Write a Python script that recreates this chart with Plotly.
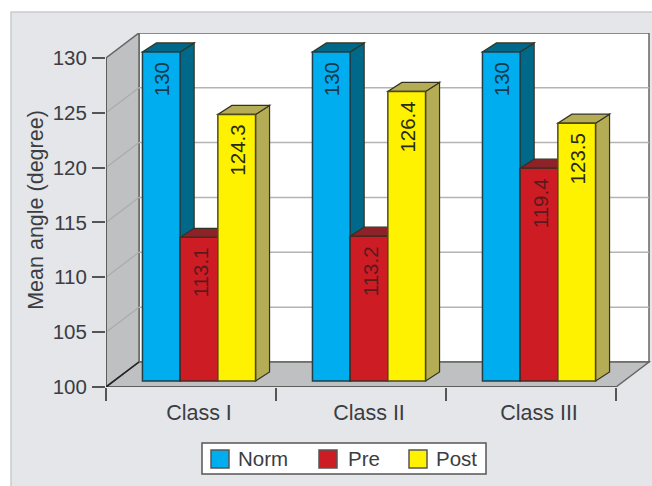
import plotly.graph_objects as go

# Chart data
classes = ["Class I", "Class II", "Class III"]
series_names = ["Norm", "Pre", "Post"]
norm = [130, 130, 130]
pre = [113.1, 113.2, 119.4]
post = [124.3, 126.4, 123.5]
y_ticks = [100, 105, 110, 115, 120, 125, 130]

# Face colours: front, top, side
front = ["#00ADEF", "#CE1C24", "#FFF200"]
top = ["#00698A", "#8E2229", "#B5AD55"]
side = ["#00698A", "#8E2229", "#B5AD55"]
edge = ["#1F3F4A", "#4A2A20", "#4F4A18"]
label_colors = ["#123A4A", "#5A1B1E", "#2A2A10"]

# Page layout in pixels
W, H = 652, 486
L, T, B = 106, 33, 99
PX_PER_CLASS = 170.0
PX_PER_UNIT = 10.97
plot_w, plot_h = W - L, H - T - B
x_max = plot_w / PX_PER_CLASS
y_max = 100 + plot_h / PX_PER_UNIT
TEXT_SIZE = 20.5
AXIS_TEXT_SIZE = 21.5
TEXT_COLOR = "#3A3D42"

# Oblique projection offsets, in data units
WALL_DX, WALL_DY = 33 / PX_PER_CLASS, 25 / PX_PER_UNIT
BAR_DX, BAR_DY = 14 / PX_PER_CLASS, 9 / PX_PER_UNIT
PLANE_DX, PLANE_DY = 8 / PX_PER_CLASS, 6 / PX_PER_UNIT
BAR_W = 37.7 / PX_PER_CLASS

# Legend placement in pixels: box, swatch left edges, text left edges
LEGEND_BOX = (202, 443, 486, 474)
SWATCH_X = [211, 319, 409]
SWATCH_SIZE = 18
LEGEND_TEXT_X = [236, 346, 434]
LEGEND_MID_Y = 459


def poly(pts):
    return "M " + " L ".join(f"{x},{y}" for x, y in pts) + " Z"


def data_shape(pts, fill, line="#555555", width=1, layer="between"):
    return dict(type="path", xref="x", yref="y", path=poly(pts), fillcolor=fill,
                line=dict(color=line, width=width), layer=layer)


def data_line(x0, y0, x1, y1, color, width=1.5):
    return dict(type="line", xref="x", yref="y", x0=x0, y0=y0, x1=x1, y1=y1,
                line=dict(color=color, width=width), layer="between")


def paper_x(px):
    return (px - L) / plot_w


def paper_y(px):
    return 1 - (px - T) / plot_h


def px_rect(x0, y0, x1, y1, fill, line=None, width=1.5):
    return dict(type="rect", xref="paper", yref="paper",
                x0=paper_x(x0), x1=paper_x(x1), y0=paper_y(y0), y1=paper_y(y1),
                fillcolor=fill, line=dict(color=line or fill, width=width), layer="below")


shapes = [px_rect(11, 12, W + 4, H + 4, "#E4E6E9", "#C9CBCD")]

# Back wall, left wall and floor
wall_right = 3 + WALL_DX
shapes.append(data_shape([(WALL_DX, 100 + WALL_DY), (wall_right, 100 + WALL_DY),
                          (wall_right, 130 + WALL_DY), (WALL_DX, 130 + WALL_DY)],
                         "#FFFFFF", "#666666", 1.5))
shapes.append(data_shape([(0, 100), (WALL_DX, 100 + WALL_DY),
                          (WALL_DX, 130 + WALL_DY), (0, 130)], "#BEC0C2", "#666666", 1.5))
shapes.append(data_shape([(0, 100), (3, 100), (wall_right, 100 + WALL_DY),
                          (WALL_DX, 100 + WALL_DY)], "#BEC0C2", "#666666", 1.5))

# Gridlines running across the left wall and the back wall
for v in y_ticks[1:-1]:
    shapes.append(data_line(0, v, WALL_DX, v + WALL_DY, "#A9ABAD", 1.2))
    shapes.append(data_line(WALL_DX, v + WALL_DY, wall_right, v + WALL_DY, "#B4B4B4", 1.5))

# Front edges of the frame
shapes.append(data_line(0, 100, 0, 130, "#555555", 1.5))
shapes.append(data_line(0, 100, 3, 100, "#555555", 1.5))
shapes.append(data_line(0, 100, WALL_DX, 100 + WALL_DY, "#222222", 1.5))

bar_base = 100 + PLANE_DY
values = [norm, pre, post]
centers = [i + 0.5 + PLANE_DX for i in range(3)]
fig = go.Figure()
annotations = []

for s, name in enumerate(series_names):
    xs = [c + (s - 1) * BAR_W for c in centers]
    fig.add_trace(go.Bar(x=xs, y=[v - 100 for v in values[s]], base=bar_base, width=BAR_W,
                         marker=dict(color=front[s], line=dict(color=edge[s], width=1.5)),
                         showlegend=False, name=name))
    for x, v in zip(xs, values[s]):
        y_top = v - 100 + bar_base
        x0, x1 = x - BAR_W / 2, x + BAR_W / 2
        # Side face and top face of the bar
        shapes.append(data_shape([(x1, bar_base), (x1 + BAR_DX, bar_base + BAR_DY),
                                  (x1 + BAR_DX, y_top + BAR_DY), (x1, y_top)],
                                 side[s], "#333322", 1.2))
        shapes.append(data_shape([(x0, y_top), (x1, y_top), (x1 + BAR_DX, y_top + BAR_DY),
                                  (x0 + BAR_DX, y_top + BAR_DY)],
                                 top[s], "#333322", 1.2))
        annotations.append(dict(x=x, y=y_top, xref="x", yref="y", text=f"{v:g}", textangle=-90,
                                showarrow=False, yanchor="top", yshift=-8, xshift=1,
                                font=dict(size=TEXT_SIZE, color=label_colors[s])))

# Legend box with swatches and labels
shapes.append(px_rect(*LEGEND_BOX, "#FFFFFF", "#555555"))
for s, name in enumerate(series_names):
    shapes.append(px_rect(SWATCH_X[s], LEGEND_MID_Y - SWATCH_SIZE / 2,
                          SWATCH_X[s] + SWATCH_SIZE, LEGEND_MID_Y + SWATCH_SIZE / 2,
                          front[s], "#555555"))
    annotations.append(dict(x=paper_x(LEGEND_TEXT_X[s]), y=paper_y(LEGEND_MID_Y),
                            xref="paper", yref="paper", text=name, showarrow=False,
                            xanchor="left", yanchor="middle",
                            font=dict(size=TEXT_SIZE, color=TEXT_COLOR)))

fig.update_layout(
    width=W, height=H, autosize=False,
    margin=dict(l=L, r=0, t=T, b=B, autoexpand=False),
    paper_bgcolor="#FFFFFF", plot_bgcolor="rgba(0,0,0,0)",
    font=dict(family="Liberation Sans, Arial, sans-serif", size=TEXT_SIZE, color=TEXT_COLOR),
    barmode="overlay", shapes=shapes, annotations=annotations, showlegend=False,
    xaxis=dict(range=[0, x_max], tickvals=centers, ticktext=classes, ticks="outside", ticklen=6,
               tickfont=dict(size=AXIS_TEXT_SIZE),
               tickcolor="rgba(0,0,0,0)", showgrid=False, zeroline=False, showline=False,
               minor=dict(tickvals=[0, 1, 2, 3], ticks="outside", ticklen=13,
                          tickcolor="#555555", tickwidth=1.5, showgrid=False)),
    yaxis=dict(range=[100, y_max], tickvals=y_ticks, ticks="outside", ticklen=13,
               ticklabelstandoff=1,
               tickcolor="#555555", tickwidth=1.5, showgrid=False, zeroline=False, showline=False,
               title=dict(text="Mean angle (degree)", standoff=3, font=dict(size=AXIS_TEXT_SIZE))),
)

fig.write_html("out.html")
